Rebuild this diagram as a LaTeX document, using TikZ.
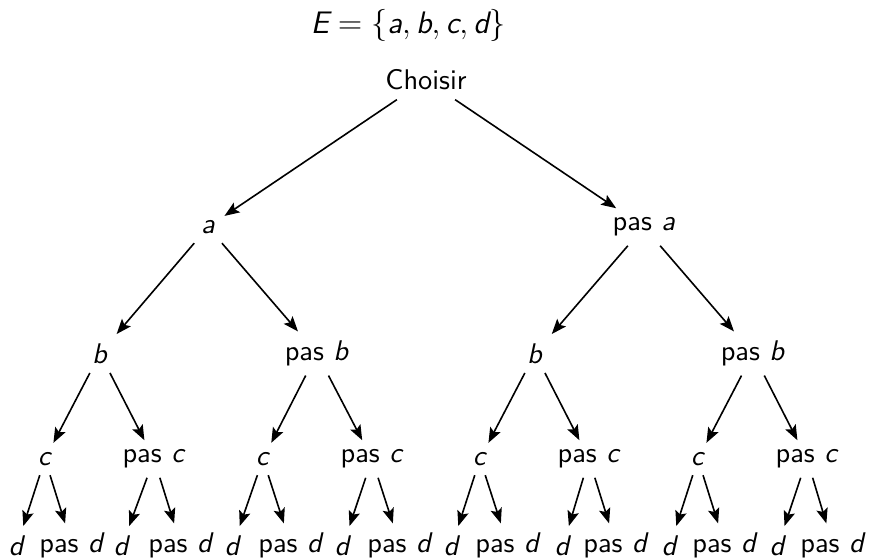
\documentclass[tikz,border=0pt]{standalone}
\usepackage{fontspec}
\renewcommand{\familydefault}{\sfdefault}
\usetikzlibrary{arrows.meta}
\newcommand{\mv}[1]{\textit{#1}}
\tikzset{
  arr/.style={-{Stealth[length=5.6pt,width=4.3pt,inset=1.1pt]}, line width=0.6pt},
  lbl/.style={font=\fontsize{10.6}{12.7}\selectfont\sffamily, inner sep=0.333em}
}
\begin{document}
\begin{tikzpicture}[x=0.373pt, y=-0.373pt]
\useasboundingbox (0,0) rectangle (870,559);
% title and root
\node[lbl, font=\fontsize{11.6}{14}\selectfont\sffamily] (title) at (408,25) {$\mv{E}=\{\mv{a},\mv{b},\mv{c},\mv{d}\}$};
\node[lbl] (r) at (426,80) {Choisir};
% level 1
\node[lbl] (a) at (208,227) {\mv{a}};
\node[lbl] (na) at (644,227) {pas \mv{a}};
% level 2
\node[lbl] (ab) at (100,353.5) {\mv{b}};
\node[lbl] (anb) at (317,353.5) {pas \mv{b}};
\node[lbl] (nab) at (535,353.5) {\mv{b}};
\node[lbl] (nanb) at (753,353.5) {pas \mv{b}};
% level 3
\foreach \i/\x in {1/45,3/263,5/480,7/698}{
  \node[lbl] (c\i) at (\x,459) {\mv{c}};
}
\foreach \i/\x in {2/154,4/372,6/589,8/807}{
  \node[lbl] (c\i) at (\x,459) {pas \mv{c}};
}
% level 4
\foreach \i/\x in {1/17,2/122,3/233,4/343,5/452,6/563,7/670,8/778}{
  \node[lbl] (d\i) at (\x,545.5) {\mv{d}};
}
\foreach \i/\x in {1/72,2/181,3/291,4/400,5/508,6/616,7/725,8/833}{
  \node[lbl] (nd\i) at (\x,545.5) {pas \mv{d}};
}
% connectors
\draw[arr] (r) -- (a);
\draw[arr] (r) -- (na);
\draw[arr] (a) -- (ab);
\draw[arr] (a) -- (anb);
\draw[arr] (na) -- (nab);
\draw[arr] (na) -- (nanb);
\draw[arr] (ab) -- (c1);
\draw[arr] (ab) -- (c2);
\draw[arr] (anb) -- (c3);
\draw[arr] (anb) -- (c4);
\draw[arr] (nab) -- (c5);
\draw[arr] (nab) -- (c6);
\draw[arr] (nanb) -- (c7);
\draw[arr] (nanb) -- (c8);
\foreach \i in {1,...,8}{
  \draw[arr] (c\i) -- (d\i);
  \draw[arr] (c\i) -- (nd\i);
}
\end{tikzpicture}
\end{document}
